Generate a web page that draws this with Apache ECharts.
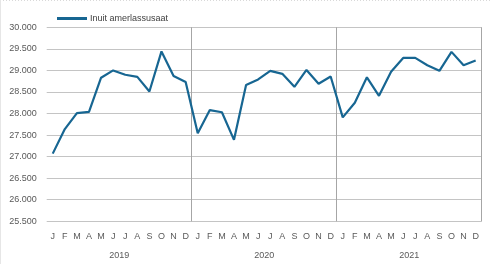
<!DOCTYPE html>
<html><head><meta charset="utf-8">
<script src="https://cdn.jsdelivr.net/npm/echarts@6/dist/echarts.min.js"></script>
<style>html,body{margin:0;padding:0;background:#fff}#c{width:491px;height:264px}</style>
</head><body><div id="c"></div>
<script>
const months = ["J","F","M","A","M","J","J","A","S","O","N","D","J","F","M","A","M","J","J","A","S","O","N","D","J","F","M","A","M","J","J","A","S","O","N","D"];
const years = ["2019","2020","2021"];
const seriesName = "Inuit amerlassusaat";
const values = [27070,27640,28010,28040,28830,29000,28900,28850,28510,29440,28870,28730,
                27540,28080,28030,27390,28660,28790,28990,28920,28620,29010,28690,28860,
                27910,28250,28840,28410,28970,29290,29290,29120,28990,29430,29120,29230];
const yMin = 25500, yMax = 30000, yStep = 500;

const chart = echarts.init(document.getElementById('c'), null, {renderer:'canvas'});
const font = "Liberation Sans";
chart.setOption({
  animation:false,
  backgroundColor:'#fff',
  textStyle:{fontFamily:font},
  grid:{left:46.7, right:9.3, top:27.3, bottom:42.7},
  legend:{
    data:[seriesName], left:52, top:9, itemWidth:30, itemHeight:3, itemGap:4,
    icon:'rect',
    textStyle:{fontFamily:font, fontSize:9, color:'#404040', padding:[0,0,0,-2]}
  },
  xAxis:[{
    type:'category', data:months, boundaryGap:true,
    axisLine:{show:false}, axisTick:{show:false},
    axisLabel:{interval:0, fontSize:9, color:'#595959', margin:11, fontFamily:font},
    splitLine:{show:true, interval:function(i){return i===12||i===24;}, lineStyle:{color:'#A6A6A6', width:1}}
  },{
    type:'category', data:years, position:'bottom', boundaryGap:true,
    axisLine:{show:false}, axisTick:{show:false},
    axisLabel:{interval:0, fontSize:9, color:'#595959', margin:30, fontFamily:font},
    splitLine:{show:false}
  }],
  yAxis:{
    type:'value', min:yMin, max:yMax, interval:yStep,
    axisLine:{show:false}, axisTick:{show:false},
    axisLabel:{fontSize:9, color:'#595959', margin:10, fontFamily:font,
      formatter:function(v){return v.toLocaleString('en-US').replace(/,/g,'.');}},
    splitLine:{lineStyle:{color:'#C4C4C4', width:1}}
  },
  graphic:[
    {type:'line', shape:{x1:0,y1:0.5,x2:491,y2:0.5}, style:{stroke:'#D9D9D9', lineDash:[1,2], lineWidth:1}},
    {type:'line', shape:{x1:0.5,y1:0,x2:0.5,y2:264}, style:{stroke:'#E6E6E6', lineWidth:1}}
  ],
  series:[{
    name:seriesName, type:'line', data:values, xAxisIndex:0,
    symbol:'none', lineStyle:{color:'#176692', width:2.2}, itemStyle:{color:'#176692'}
  }]
});
</script></body></html>
